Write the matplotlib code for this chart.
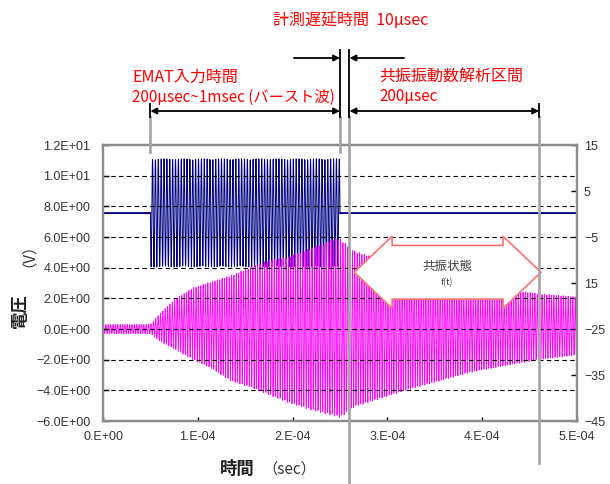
import numpy as np
import matplotlib
matplotlib.use("Agg")
import matplotlib.pyplot as plt
from matplotlib.patches import Polygon
from matplotlib.lines import Line2D

# ---- data -------------------------------------------------------------
sample_step_us = 0.2

# received (resonance) signal envelope, left axis [V]
env_time_us = [0, 50, 60, 75, 95, 115, 135, 155, 175, 195, 220, 245, 250, 265, 320, 390, 460, 500]
response_upper = [0.3, 0.3, 1.0, 1.9, 2.7, 3.1, 3.5, 4.0, 4.5, 4.7, 5.3, 5.9, 5.9, 5.1, 4.0, 2.9, 2.3, 2.1]
response_lower = [-0.3, -0.3, -0.8, -1.3, -2.0, -2.6, -3.4, -3.8, -4.3, -4.8, -5.3, -5.7, -5.8, -5.1, -4.0, -2.8, -2.0, -1.7]
response_freq_mhz = 0.40

# EMAT burst drive signal, right axis
burst_start_us = 50
burst_end_us = 250
burst_upper = 12.0
burst_lower = -11.5
burst_baseline = 0.2
burst_freq_mhz = 0.33

# measurement windows [µs]
delay_us = 10
analysis_len_us = 200

# axes
x_ticks = [0, 1e-4, 2e-4, 3e-4, 4e-4, 5e-4]
x_labels = ["0.E+00", "1.E-04", "2.E-04", "3.E-04", "4.E-04", "5.E-04"]
left_ticks = [-6, -4, -2, 0, 2, 4, 6, 8, 10, 12]
left_labels = ["\u22126.0E+00", "\u22124.0E+00", "\u22122.0E+00", "0.0E+00", "2.0E+00",
               "4.0E+00", "6.0E+00", "8.0E+00", "1.0E+01", "1.2E+01"]
right_ticks = [-45, -35, -25, -15, -5, 5, 15]
right_labels = ["\u221245", "\u221235", "\u221225", "15", "\u22125", "5", "15"]

# ---- fonts ------------------------------------------------------------
CJK = "Noto Sans CJK JP"
TICK_FONT = ["Liberation Sans", "DejaVu Sans"]
plt.rcParams["font.family"] = [CJK, "DejaVu Sans"]

# ---- signals ----------------------------------------------------------
t_us = np.arange(0, 500 + sample_step_us / 2, sample_step_us)
t_s = t_us * 1e-6

up = np.interp(t_us, env_time_us, response_upper)
lo = np.interp(t_us, env_time_us, response_lower)
response = (up + lo) / 2 + (up - lo) / 2 * np.sin(2 * np.pi * response_freq_mhz * t_us)

in_burst = (t_us >= burst_start_us) & (t_us <= burst_end_us)
burst = np.full_like(t_us, burst_baseline)
burst[in_burst] = ((burst_upper + burst_lower) / 2
                   + (burst_upper - burst_lower) / 2
                   * np.sin(2 * np.pi * burst_freq_mhz * t_us[in_burst]))
# idle stretches are drawn heavier than the dense burst itself
burst_idle = np.where(in_burst, np.nan, burst)
burst_active = np.where(in_burst, burst, np.nan)

# ---- figure -----------------------------------------------------------
W, H = 610, 484
fig = plt.figure(figsize=(W / 100, H / 100), dpi=100)
ax = fig.add_axes([103 / W, 1 - 421 / H, (577 - 103) / W, (421 - 145) / H])
ax2 = ax.twinx()
ax.set_zorder(ax2.get_zorder() + 1)
ax.patch.set_visible(False)

ax2.plot(t_s, burst_idle, color="#000080", lw=1.4, zorder=1)
ax2.plot(t_s, burst_active, color="#000080", lw=0.7, zorder=1)
ax.plot(t_s, response, color="#ff00ff", lw=0.6, zorder=1)

ax.set_xlim(0, 5e-4)
ax.set_ylim(-6, 12)
ax2.set_ylim(-45, 15)

for v in left_ticks[1:-1]:
    ax.axhline(v, color="black", lw=0.8, ls=(0, (4, 3)), zorder=2)

spine_c = "#8c8c8c"
for a in (ax, ax2):
    for s in a.spines.values():
        s.set_color(spine_c)
        s.set_linewidth(1.6)

ax.set_xticks(x_ticks)
ax.set_xticklabels(x_labels)
ax.set_yticks(left_ticks)
ax.set_yticklabels(left_labels)
ax2.set_yticks(right_ticks)
ax2.set_yticklabels(right_labels)
ax.tick_params(axis="y", direction="in", length=4, width=1, color="black", pad=9,
               labelsize=9, labelcolor="#333333")
ax.tick_params(axis="x", direction="in", length=3, width=1, color="black", pad=7,
               labelsize=9, labelcolor="#333333")
ax2.tick_params(axis="y", direction="in", length=4, width=1, color="black", pad=5,
                labelsize=9, labelcolor="#333333")
for lab in ax.get_xticklabels() + ax.get_yticklabels() + ax2.get_yticklabels():
    lab.set_fontfamily(TICK_FONT)

# resonance-state block arrow
tip_l, base_l, base_r, tip_r = 265e-6, 305e-6, 422e-6, 462e-6
yc, head_h, shaft_h = 3.7, 2.35, 1.75
arrow_pts = [(tip_l, yc), (base_l, yc + head_h), (base_l, yc + shaft_h),
             (base_r, yc + shaft_h), (base_r, yc + head_h), (tip_r, yc),
             (base_r, yc - head_h), (base_r, yc - shaft_h), (base_l, yc - shaft_h),
             (base_l, yc - head_h)]
ax.add_patch(Polygon(arrow_pts, closed=True, facecolor="white", edgecolor="#ff7070",
                     lw=1.2, zorder=3))
ax.text(363e-6, 4.1, "共振状態", ha="center", va="center", fontsize=9,
        color="#404040", zorder=4)
ax.text(363e-6, 3.0, "f(t)", ha="center", va="center", fontsize=6.5,
        color="#404040", zorder=4)

# measurement window guide lines
xt = ax.get_xaxis_transform()
t_burst0 = burst_start_us * 1e-6
t_burst1 = burst_end_us * 1e-6
t_an0 = (burst_end_us + delay_us) * 1e-6
t_an1 = (burst_end_us + delay_us + analysis_len_us) * 1e-6


def fy(py):
    return (421 - py) / 276


guides = [(t_burst0, 104, 152), (t_burst1, 50, 152), (t_an0, 50, 484), (t_an1, 104, 463)]
for x, top, bottom in guides:
    ax.add_line(Line2D([x, x], [fy(117), fy(bottom)], transform=xt, color="#a8a8a8",
                       lw=2.0, clip_on=False, zorder=5))
    ax.add_line(Line2D([x, x], [fy(top), fy(117)], transform=xt, color="black",
                       lw=1.3, clip_on=False, zorder=5))

dim_style = dict(arrowstyle="<|-|>", color="black", lw=1.3, shrinkA=0, shrinkB=0,
                 mutation_scale=9)
one_style = dict(arrowstyle="-|>", color="black", lw=1.3, shrinkA=0, shrinkB=0,
                 mutation_scale=9)
ax.annotate("", xy=(t_burst1, fy(111)), xytext=(t_burst0, fy(111)), xycoords=xt,
            arrowprops=dim_style, annotation_clip=False)
ax.annotate("", xy=(t_an1, fy(111)), xytext=(t_an0, fy(111)), xycoords=xt,
            arrowprops=dim_style, annotation_clip=False)
ax.annotate("", xy=(t_burst1, fy(58)), xytext=(201.5e-6, fy(58)), xycoords=xt,
            arrowprops=one_style, annotation_clip=False)
ax.annotate("", xy=(t_an0, fy(58)), xytext=(317.5e-6, fy(58)), xycoords=xt,
            arrowprops=one_style, annotation_clip=False)


def ftext(px, py, s, **kw):
    fig.text(px / W, 1 - py / H, s, **kw)


red = "#ff0000"
ftext(273, 21, "計測遅延時間  10μsec", color=red, fontsize=11.5, va="center")
ftext(132, 77, "EMAT入力時間", color=red, fontsize=11.5, va="center")
ftext(132, 97, "200μsec~1msec (バースト波)", color=red, fontsize=11, va="center")
ftext(379, 77, "共振振動数解析区間", color=red, fontsize=11.5, va="center")
ftext(379, 97, "200μsec", color=red, fontsize=11, va="center")

# axis titles
ftext(20, 311, "電圧", rotation=90, ha="center", va="center", fontsize=12.5,
      fontweight="bold", color="#222222")
ftext(20, 247, "（V）", rotation=90, ha="center", va="center", fontsize=11,
      color="#333333")
ftext(237, 469, "時間", ha="center", va="center", fontsize=12.5, fontweight="bold",
      color="#222222")
ftext(289, 469, "（sec）", ha="center", va="center", fontsize=11, color="#333333")

fig.savefig("out.png", dpi=100)
